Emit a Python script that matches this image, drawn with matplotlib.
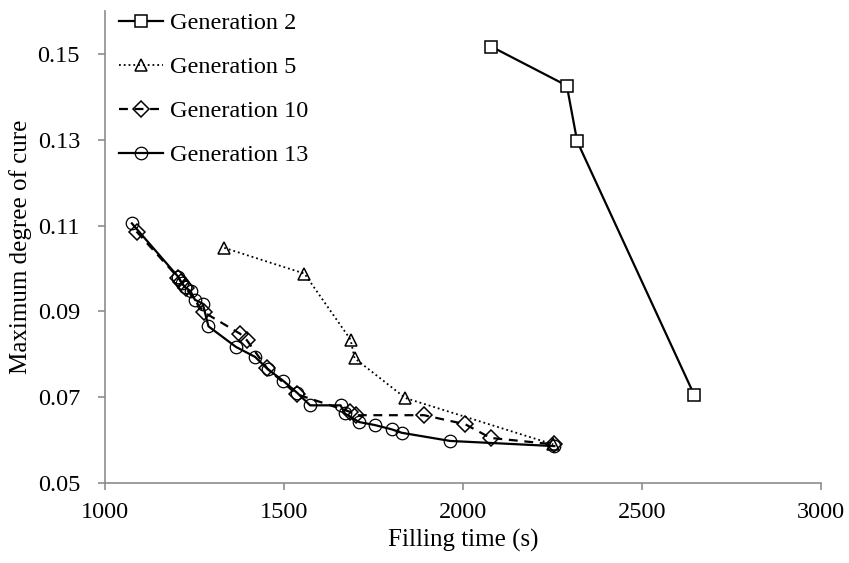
import numpy as np
import matplotlib
matplotlib.use("Agg")
import matplotlib.pyplot as plt

plt.rcParams['font.family'] = ['Liberation Serif', 'DejaVu Serif']

# Generation 2
g2_x = [2079, 2290, 2319, 2646]
g2_y = [0.1517, 0.1426, 0.1296, 0.0705]

# Generation 5
g5_x = [1333, 1557, 1686, 1697, 1839, 2252]
g5_y = [0.1048, 0.0988, 0.0834, 0.0791, 0.0698, 0.0590]

# Generation 10
g10_x = [1088, 1205, 1213, 1225, 1276, 1377, 1396, 1453, 1535, 1684, 1701, 1891, 2006, 2077, 2255]
g10_y = [0.1086, 0.0978, 0.0968, 0.0955, 0.0898, 0.0848, 0.0833, 0.0767, 0.0707,
         0.0666, 0.0658, 0.0658, 0.0637, 0.0605, 0.0590]

# Generation 13
g13_x = [1075, 1205, 1215, 1223, 1239, 1251, 1273, 1289, 1366, 1419, 1455, 1498, 1537,
         1573, 1658, 1670, 1710, 1754, 1801, 1829, 1964, 2255]
g13_y = [0.1105, 0.0980, 0.0965, 0.0957, 0.0947, 0.0927, 0.0918, 0.0865, 0.0817, 0.0794,
         0.0765, 0.0738, 0.0710, 0.0681, 0.0681, 0.0662, 0.0642, 0.0635, 0.0625, 0.0617,
         0.0598, 0.0586]

fig = plt.figure(figsize=(8.49, 5.63), dpi=100)
ax = fig.add_axes([0.1237, 0.1421, 0.8433, 0.8384])

ax.plot(g2_x, g2_y, '-', color='black', lw=1.6, marker='s', ms=8,
        mfc='white', mec='black', mew=1.1, label='Generation 2')
ax.plot(g5_x, g5_y, ':', color='black', lw=1.3, marker='^', ms=9,
        mfc='none', mec='black', mew=1.1, label='Generation 5')
ax.plot(g10_x, g10_y, '--', color='black', lw=1.6, dashes=(4, 3), marker='D', ms=8,
        mfc='none', mec='black', mew=1.1, label='Generation 10')
ax.plot(g13_x, g13_y, '-', color='black', lw=1.6, marker='o', ms=9,
        mfc='none', mec='black', mew=0.9, label='Generation 13')

ax.set_xlim(1000, 3000)
ax.set_ylim(0.05, 0.16)
ax.set_xticks([1000, 1500, 2000, 2500, 3000])
ax.set_yticks([0.05, 0.07, 0.09, 0.11, 0.13, 0.15])
ax.set_yticklabels(['0.05', '0.07', '0.09', '0.11', '0.13', '0.15'])

for s in ['top', 'right']:
    ax.spines[s].set_visible(False)
for s in ['left', 'bottom']:
    ax.spines[s].set_color('#8c8c8c')
    ax.spines[s].set_linewidth(1.2)
ax.tick_params(colors='#8c8c8c', labelcolor='black', labelsize=17.5, length=5, width=1.2, direction='out')
ax.tick_params(axis='x', pad=9)
ax.tick_params(axis='y', pad=13)

ax.set_xlabel('Filling time (s)', fontsize=18, labelpad=4)
ax.set_ylabel('Maximum degree of cure', fontsize=18, labelpad=4)

ax.legend(loc='upper left', bbox_to_anchor=(-0.004, 1.033), frameon=False, fontsize=17.5,
          handlelength=1.8, handletextpad=0.3, labelspacing=0.9, borderaxespad=0.3)

plt.savefig('out.png', dpi=100)
